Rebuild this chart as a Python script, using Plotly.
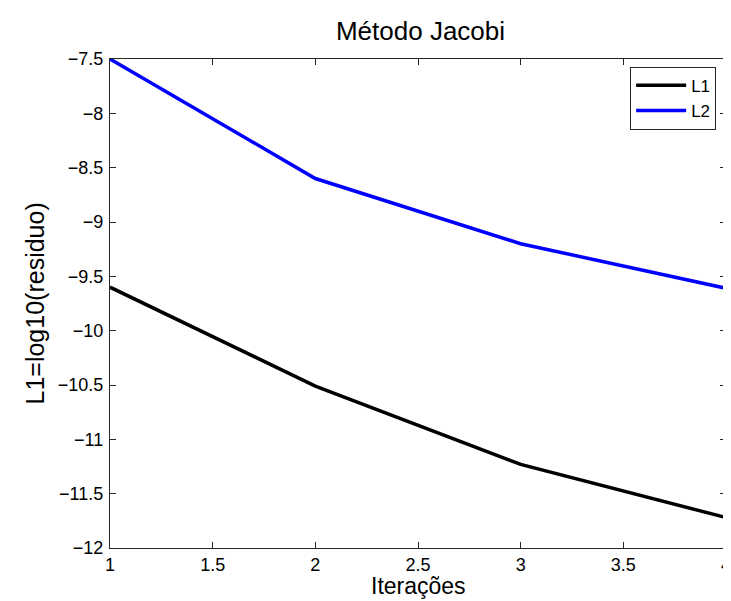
import plotly.graph_objects as go

iteracoes = [1, 2, 3, 4]
l1_values = [-9.6, -10.51, -11.23, -11.72]
l2_values = [-7.5, -8.6, -9.2, -9.61]
x_ticks = [1, 1.5, 2, 2.5, 3, 3.5, 4]
x_tick_labels = ["1", "1.5", "2", "2.5", "3", "3.5", "4"]
y_ticks = [-12, -11.5, -11, -10.5, -10, -9.5, -9, -8.5, -8, -7.5]
y_tick_labels = ["\u221212", "\u221211.5", "\u221211", "\u221210.5", "\u221210",
                 "\u22129.5", "\u22129", "\u22128.5", "\u22128", "\u22127.5"]

W, H = 731, 601
L, R, T, B = 102, 8, 51, 61
font = "Liberation Sans, Arial, sans-serif"

fig = go.Figure()
fig.add_trace(go.Scatter(x=iteracoes, y=l1_values, mode="lines", name="L1",
                         line=dict(color="black", width=3.5)))
fig.add_trace(go.Scatter(x=iteracoes, y=l2_values, mode="lines", name="L2",
                         line=dict(color="#0000ff", width=3.5)))

axis_common = dict(showgrid=False, zeroline=False, showline=True, mirror="ticks",
                   linecolor="#262626", linewidth=1.2, ticks="inside", ticklen=6,
                   tickcolor="#262626", tickwidth=1, ticklabeloverflow="allow",
                   tickfont=dict(family=font, size=18, color="black"))

fig.update_layout(
    width=W, height=H,
    margin=dict(l=L, r=R, t=T, b=B),
    paper_bgcolor="white", plot_bgcolor="white",
    font=dict(family=font, color="black"),
    title=dict(text="Método Jacobi", x=(L + (W - R)) / 2 / W, xanchor="center",
               y=1 - 23 / H, yanchor="middle",
               font=dict(family=font, size=26, color="black")),
    xaxis=dict(range=[1, 4], tickvals=x_ticks, ticktext=x_tick_labels, **axis_common),
    yaxis=dict(range=[-12, -7.5], tickvals=y_ticks, ticktext=y_tick_labels,
               ticklabelstandoff=2, **axis_common),
    legend=dict(x=0.984, xanchor="right", y=0.984, yanchor="top",
                bgcolor="white", bordercolor="#262626", borderwidth=1,
                font=dict(family=font, size=17, color="black"),
                tracegroupgap=0, itemwidth=50),
    showlegend=True,
    annotations=[
        dict(text="Iterações", xref="paper", yref="paper", x=0.5, y=0,
             xanchor="center", yanchor="top", yshift=-24, showarrow=False,
             borderpad=0, font=dict(family=font, size=23, color="black")),
        dict(text="L1=log10(residuo)", xref="paper", yref="paper", x=0, y=0.5,
             xanchor="center", yanchor="middle", xshift=-76, textangle=-90,
             showarrow=False, font=dict(family=font, size=25, color="black")),
    ],
)

fig.write_html("out.html")
